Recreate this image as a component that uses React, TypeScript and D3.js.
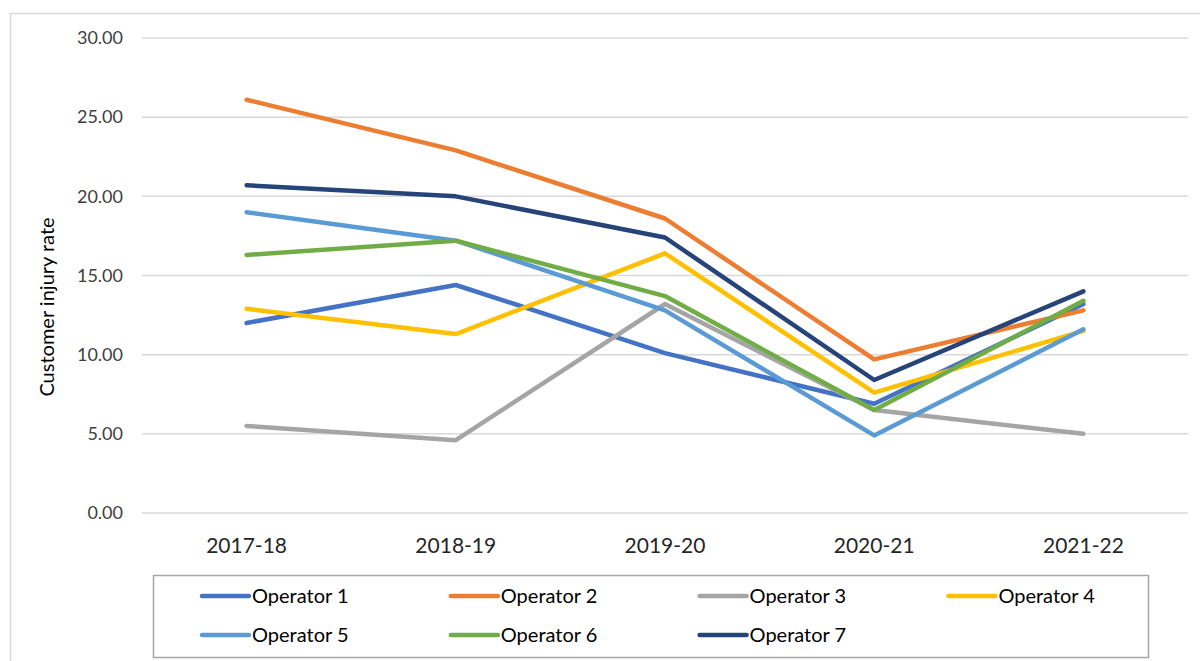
import React, { useEffect, useRef } from 'react';
import * as d3 from 'd3';

const years = ['2017-18', '2018-19', '2019-20', '2020-21', '2021-22'];
const yTicks = [0, 5, 10, 15, 20, 25, 30];

const operator1 = [12.0, 14.4, 10.1, 6.9, 13.2];
const operator2 = [26.1, 22.9, 18.6, 9.7, 12.8];
const operator3 = [5.5, 4.6, 13.2, 6.5, 5.0];
const operator4 = [12.9, 11.3, 16.4, 7.6, 11.5];
const operator5 = [19.0, 17.2, 12.8, 4.9, 11.6];
const operator6 = [16.3, 17.2, 13.7, 6.5, 13.4];
const operator7 = [20.7, 20.0, 17.4, 8.4, 14.0];

const names = ['Operator 1', 'Operator 2', 'Operator 3', 'Operator 4', 'Operator 5', 'Operator 6', 'Operator 7'];
const colors = ['#4472C4', '#ED7D31', '#A5A5A5', '#FFC000', '#5B9BD5', '#70AD47', '#264478'];

const font = 'Lato, "Open Sans", sans-serif';

export default function App() {
  const ref = useRef<SVGSVGElement>(null);

  useEffect(() => {
    const svg = d3.select(ref.current);
    svg.selectAll('*').remove();

    const series = [operator1, operator2, operator3, operator4, operator5, operator6, operator7]
      .map((values, i) => ({ name: names[i], color: colors[i], values }));

    const left = 142, right = 1188, top = 38, bottom = 513;

    var x = d3.scaleBand().domain(years).range([left, right]).padding(0);
    var y = d3.scaleLinear().domain([0, 30]).range([bottom, top]);
    const cx = (d: string) => (x(d) as number) + x.bandwidth() / 2;

    // chart frame
    svg.append('rect')
      .attr('x', 10.5).attr('y', 13.5)
      .attr('width', 1250).attr('height', 700)
      .attr('fill', 'white').attr('stroke', '#d9d9d9').attr('stroke-width', 1.5);

    // gridlines + y tick labels
    const yg = svg.append('g');
    yg.selectAll('line').data(yTicks).enter().append('line')
      .attr('x1', left).attr('x2', right)
      .attr('y1', d => y(d)).attr('y2', d => y(d))
      .attr('stroke', '#d9d9d9').attr('stroke-width', 1.5);
    yg.selectAll('text').data(yTicks).enter().append('text')
      .attr('x', 123).attr('y', d => y(d))
      .attr('dy', '0.35em')
      .attr('text-anchor', 'end')
      .attr('font-family', font).attr('font-size', 18)
      .attr('fill', '#404040')
      .text(d => d3.format('.2f')(d));

    // x labels
    svg.append('g').selectAll('text').data(years).enter().append('text')
      .attr('x', d => cx(d)).attr('y', 546)
      .attr('dy', '0.35em')
      .attr('text-anchor', 'middle')
      .attr('font-family', font).attr('font-size', 21)
      .attr('fill', '#262626')
      .text(d => d);

    // y axis title
    svg.append('text')
      .attr('transform', 'translate(47,' + 307 + ') rotate(-90)')
      .attr('dy', '0.35em')
      .attr('text-anchor', 'middle')
      .attr('font-family', font).attr('font-size', 20)
      .attr('fill', '#000')
      .text('Customer injury rate');

    // lines
    const line = d3.line<number>()
      .x((d, i) => cx(years[i]))
      .y(d => y(d));

    svg.append('g').selectAll('path').data(series).enter().append('path')
      .attr('d', d => line(d.values))
      .attr('fill', 'none')
      .attr('stroke', d => d.color)
      .attr('stroke-width', 4.5)
      .attr('stroke-linecap', 'round')
      .attr('stroke-linejoin', 'round');

    // legend
    svg.append('rect')
      .attr('x', 153.5).attr('y', 575.5)
      .attr('width', 995).attr('height', 82)
      .attr('fill', 'white').attr('stroke', '#a6a6a6').attr('stroke-width', 1.5);

    const item = svg.append('g').selectAll('g').data(series).enter().append('g')
      .attr('transform', (d, i) => 'translate(' + (202 + (i % 4) * 248.8) + ',' + (i < 4 ? 596 : 635) + ')');
    item.append('line')
      .attr('x1', 0).attr('x2', 47).attr('y1', 0).attr('y2', 0)
      .attr('stroke', d => d.color).attr('stroke-width', 4.5)
      .attr('stroke-linecap', 'round');
    item.append('text')
      .attr('x', 50).attr('y', 0).attr('dy', '0.35em')
      .attr('font-family', font).attr('font-size', 20)
      .attr('fill', '#000')
      .text(d => d.name);
  }, []);

  return (
    <svg ref={ref} width={1200} height={661}
      style={{ position: 'absolute', left: 0, top: 0, background: 'white' }} />
  );
}
